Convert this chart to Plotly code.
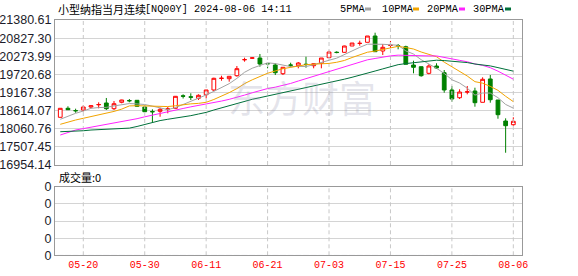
import plotly.graph_objects as go

# ---------------- data ----------------
dates = ["05-15", "05-16", "05-17", "05-20", "05-21", "05-22", "05-23", "05-24", "05-27", "05-28",
         "05-29", "05-30", "05-31", "06-03", "06-04", "06-05", "06-06", "06-07", "06-10", "06-11",
         "06-12", "06-13", "06-14", "06-17", "06-18", "06-19", "06-20", "06-21", "06-24", "06-25",
         "06-26", "06-27", "06-28", "07-01", "07-02", "07-03", "07-04", "07-05", "07-08", "07-09",
         "07-10", "07-11", "07-12", "07-15", "07-16", "07-17", "07-18", "07-19", "07-22", "07-23",
         "07-24", "07-25", "07-26", "07-29", "07-30", "07-31", "08-01", "08-02", "08-05", "08-06"]

open_ = [18410, 18685, 18615, 18633, 18724, 18792, 18847, 18673, 18868, 18923,
         18929, 18724, 18587, 18593, 18657, 18685, 19066, 19036, 18990, 19100,
         19244, 19595, 19589, 19680, 20166, 20214, 20220, 20053, 20007, 19741,
         20007, 19985, 20031, 19985, 20059, 20230, 20397, 20394, 20587, 20664,
         20700, 20892, 20434, 20603, 20599, 20565, 20007, 19955, 19753, 19976,
         19772, 19244, 19008, 19182, 19213, 18868, 19580, 18938, 18297, 18184]
high = [18690, 18746, 18673, 18776, 18770, 18868, 19000, 18908, 18947, 18969,
        18938, 18776, 18654, 18703, 18724, 19060, 19112, 19143, 19112, 19244,
        19619, 19680, 19662, 19976, 20230, 20242, 20343, 20059, 20059, 19937,
        20077, 20098, 20260, 20053, 20220, 20443, 20425, 20596, 20678, 20749,
        20892, 20993, 20648, 20740, 20648, 20596, 20138, 19961, 20028, 20059,
        19854, 19366, 19265, 19366, 19314, 19631, 19701, 18938, 18379, 18410]
low = [18405, 18633, 18550, 18593, 18685, 18685, 18633, 18633, 18837, 18868,
       18734, 18581, 18267, 18428, 18532, 18679, 18984, 18938, 18938, 18990,
       19213, 19527, 19497, 19650, 20108, 20196, 19955, 19906, 19701, 19701,
       19937, 19906, 19924, 19906, 19906, 20220, 20364, 20388, 20587, 20596,
       20700, 20413, 20312, 20526, 20486, 20028, 19753, 19650, 19723, 19885,
       19161, 18886, 18969, 19112, 18734, 18868, 18856, 18367, 17329, 18154]
close = [18685, 18642, 18610, 18724, 18764, 18801, 18673, 18825, 18938, 18914,
         18746, 18581, 18578, 18654, 18666, 19051, 19054, 19024, 19082, 19244,
         19601, 19604, 19662, 19894, 20172, 20224, 20037, 20043, 19772, 19937,
         20001, 20068, 20022, 20047, 20220, 20404, 20388, 20587, 20678, 20669,
         20892, 20413, 20547, 20610, 20593, 20028, 19937, 19680, 19976, 19915,
         19244, 18969, 19182, 19188, 18856, 19570, 18947, 18490, 18154, 18288]
volume = [0, 0, 0, 0, 0, 0, 0, 0, 0, 0, 0, 0, 0, 0, 0, 0, 0, 0, 0, 0,
          0, 0, 0, 0, 0, 0, 0, 0, 0, 0, 0, 0, 0, 0, 0, 0, 0, 0, 0, 0,
          0, 0, 0, 0, 0, 0, 0, 0, 0, 0, 0, 0, 0, 0, 0, 0, 0, 0, 0, 0]

ma5 = [18349, 18450, 18532, 18602, 18685, 18708, 18714, 18757, 18800, 18830,
       18819, 18801, 18751, 18695, 18645, 18706, 18801, 18890, 18975, 19091,
       19201, 19309, 19437, 19599, 19785, 19909, 19998, 20074, 20050, 20003,
       19958, 19964, 19960, 20015, 20072, 20152, 20216, 20329, 20455, 20545,
       20642, 20647, 20639, 20625, 20610, 20437, 20342, 20169, 20043, 19907,
       19750, 19557, 19457, 19300, 19088, 19153, 19149, 19010, 18803, 18690]
ma10 = [18196, 18267, 18328, 18380, 18429, 18480, 18532, 18590, 18660, 18758,
        18764, 18758, 18754, 18747, 18738, 18763, 18801, 18821, 18835, 18868,
        18954, 19055, 19163, 19287, 19438, 19555, 19654, 19755, 19824, 19894,
        19934, 19981, 20017, 20032, 20037, 20055, 20090, 20145, 20235, 20308,
        20397, 20432, 20484, 20540, 20577, 20540, 20495, 20404, 20334, 20259,
        20094, 19949, 19813, 19671, 19498, 19452, 19353, 19234, 19052, 18889]
ma20 = [17870, 17950, 18022, 18065, 18105, 18150, 18196, 18236, 18276, 18320,
        18368, 18425, 18480, 18530, 18585, 18635, 18680, 18730, 18770, 18813,
        18859, 18906, 18959, 19017, 19088, 19159, 19227, 19288, 19330, 19381,
        19444, 19518, 19590, 19660, 19738, 19805, 19872, 19950, 20030, 20101,
        20165, 20206, 20251, 20286, 20307, 20297, 20292, 20274, 20284, 20283,
        20246, 20191, 20149, 20106, 20037, 19996, 19924, 19819, 19693, 19574]
ma30 = [17970, 17975, 17982, 18000, 18022, 18032, 18043, 18048, 18052, 18080,
        18130, 18190, 18260, 18310, 18350, 18380, 18410, 18460, 18510, 18560,
        18633, 18700, 18770, 18840, 18908, 18960, 19010, 19060, 19112, 19173,
        19217, 19265, 19312, 19356, 19404, 19458, 19515, 19574, 19632, 19690,
        19761, 19823, 19888, 19953, 20017, 20050, 20079, 20101, 20131, 20153,
        20142, 20121, 20105, 20081, 20037, 20016, 19979, 19927, 19873, 19819]

price_ticks = [16954.14, 17507.45, 18060.76, 18614.07, 19167.38, 19720.68, 20273.99, 20827.30, 21380.61]
price_tick_labels = ["16954.14", "17507.45", "18060.76", "18614.07", "19167.38",
                     "19720.68", "20273.99", "20827.30", "21380.61"]
date_tick_labels = ["05-20", "05-30", "06-11", "06-21", "07-03", "07-15", "07-25", "08-06"]
vol_ticks = [0, 0.25, 0.5, 0.75, 1]
vol_tick_labels = ["0", "0", "0", "0", "0"]

title_cn = "小型纳指当月连续"
title_code = "[NQ00Y] 2024-08-06 14:11"
ma_names = ["5PMA", "10PMA", "20PMA", "30PMA"]
ma_colors = ["#a3a3a3", "#f2a400", "#ff22ff", "#00703a"]
volume_label = "成交量:0"
watermark = "东方财富"

# ---------------- figure ----------------
W, H = 578, 276
idx = list(range(len(dates)))
date_idx = [dates.index(d) for d in date_tick_labels]

fig = go.Figure()

# vertical dashed guides at the labelled dates (drawn first, beneath the candles)
gx, gy_price, gy_vol = [], [], []
for di in date_idx:
    gx += [di, di, None]
    gy_price += [price_ticks[0], price_ticks[-1], None]
    gy_vol += [vol_ticks[0], vol_ticks[-1], None]
fig.add_trace(go.Scatter(x=gx, y=gy_price, mode="lines", showlegend=False, hoverinfo="skip",
                         line=dict(color="#c8c8c8", width=1, dash="4px,3px"), xaxis="x", yaxis="y"))
fig.add_trace(go.Scatter(x=gx, y=gy_vol, mode="lines", showlegend=False, hoverinfo="skip",
                         line=dict(color="#c8c8c8", width=1, dash="4px,3px"), xaxis="x2", yaxis="y2"))

fig.add_trace(go.Candlestick(
    x=idx, open=open_, high=high, low=low, close=close,
    increasing=dict(line=dict(color="#ff0000", width=1), fillcolor="#ffffff"),
    decreasing=dict(line=dict(color="#008000", width=1), fillcolor="#008000"),
    whiskerwidth=0, showlegend=False, hoverinfo="skip",
    xaxis="x", yaxis="y"))

for name, vals, col in zip(ma_names, [ma5, ma10, ma20, ma30], ma_colors):
    fig.add_trace(go.Scatter(x=idx, y=vals, mode="lines", name=name,
                             line=dict(color=col, width=1), showlegend=False,
                             hoverinfo="skip", xaxis="x", yaxis="y"))

fig.add_trace(go.Bar(x=idx, y=volume, marker_color="#888888", showlegend=False,
                     hoverinfo="skip", xaxis="x2", yaxis="y2"))

xl, xr = 55 / W, 522 / W
common_x = dict(domain=[xl, xr], range=[-0.685, 60.13], tickmode="array", tickvals=date_idx,
                showgrid=False, showline=True, linecolor="#999999", linewidth=1, mirror=True,
                zeroline=False, automargin=False, fixedrange=True)

fig.update_layout(
    width=W, height=H, margin=dict(l=0, r=0, t=0, b=0),
    paper_bgcolor="white", plot_bgcolor="white",
    showlegend=False, boxgap=0.3,
    xaxis=dict(**common_x, anchor="y", showticklabels=False, rangeslider=dict(visible=False)),
    yaxis=dict(domain=[(H - 165) / H, (H - 20) / H], range=[price_ticks[0], price_ticks[-1]],
               tickmode="array", tickvals=price_ticks, ticktext=price_tick_labels,
               showgrid=True, gridcolor="#d4d4d4", zeroline=False,
               showline=True, linecolor="#999999", linewidth=1, mirror=True,
               tickfont=dict(family="Liberation Sans", size=12.5, color="#1c1c2a"),
               automargin=False, fixedrange=True, anchor="x"),
    xaxis2=dict(**common_x, anchor="y2", showticklabels=True, ticktext=date_tick_labels,
                tickfont=dict(family="Liberation Mono", size=10, color="#ff0000")),
    yaxis2=dict(domain=[(H - 255.3) / H, (H - 186.7) / H], range=[0, 1],
                tickmode="array", tickvals=vol_ticks, ticktext=vol_tick_labels,
                showgrid=True, gridcolor="#d4d4d4", zeroline=False,
                showline=True, linecolor="#999999", linewidth=1, mirror=True,
                tickfont=dict(family="Liberation Sans", size=12.5, color="#1c1c2a"),
                automargin=False, fixedrange=True, anchor="x2"),
)

ann = []
ann.append(dict(text=watermark, x=302 / W, y=1 - 97 / H, xref="paper", yref="paper",
                xanchor="center", yanchor="middle", showarrow=False,
                font=dict(family="Noto Sans CJK SC", size=37, color="rgba(150,150,175,0.25)")))
ann.append(dict(text=title_cn, x=56 / W, y=1 - 9 / H, xref="paper", yref="paper",
                xanchor="left", yanchor="middle", showarrow=False,
                font=dict(family="Noto Sans CJK SC", size=11, color="#000000")))
ann.append(dict(text=title_code, x=143 / W, y=1 - 9 / H, xref="paper", yref="paper",
                xanchor="left", yanchor="middle", showarrow=False,
                font=dict(family="Liberation Mono", size=10.2, color="#000000")))
leg_x = [338, 380, 425, 471]
for name, col, lx in zip(ma_names, ma_colors, leg_x):
    ann.append(dict(text=name, x=lx / W, y=1 - 8.5 / H, xref="paper", yref="paper",
                    xanchor="left", yanchor="middle", showarrow=False,
                    font=dict(family="Liberation Mono", size=10.3, color="#000000")))
ann.append(dict(text=volume_label, x=57 / W, y=1 - 177 / H, xref="paper", yref="paper",
                xanchor="left", yanchor="middle", showarrow=False,
                font=dict(family="Noto Sans CJK SC", size=11, color="#000000")))
fig.update_layout(annotations=ann)

shapes = []
sq_x = [365, 413, 459, 505]
for col, sx in zip(ma_colors, sq_x):
    shapes.append(dict(type="rect", xref="paper", yref="paper",
                       x0=sx / W, x1=(sx + 6) / W, y0=1 - 10.5 / H, y1=1 - 7.5 / H,
                       fillcolor=col, line=dict(width=0)))
fig.update_layout(shapes=shapes)

fig.write_html("out.html", include_plotlyjs=True, config={"displayModeBar": False, "staticPlot": True})
